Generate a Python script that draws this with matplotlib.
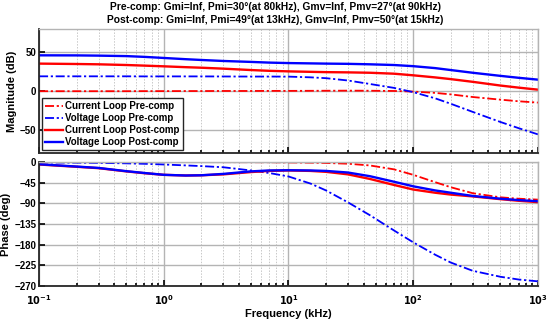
import numpy as np
import matplotlib
matplotlib.use('Agg')
from matplotlib import pyplot as plt
from matplotlib.ticker import LogLocator, NullFormatter, FixedLocator

plt.rcParams['font.family'] = ['Liberation Sans', 'DejaVu Sans']
plt.rcParams['font.weight'] = 'bold'

# frequency points (kHz)
freq = [0.1, 0.2, 0.3, 0.5, 0.7, 1, 1.5, 2, 3, 5, 7, 10, 15, 20, 30, 45, 70,
        100, 150, 200, 300, 500, 700, 1000]

# magnitude (dB)
mag_cur_pre = [-0.3, -0.3, -0.3, -0.3, -0.2, -0.2, -0.1, -0.1, 0, 0, 0.1, 0.1, 0.2, 0.3, 0.4, 0.3, 0,
               -0.8, -2.5, -4.4, -7.8, -11.2, -13.3, -15]
mag_vol_pre = [18.9, 18.9, 18.9, 18.9, 18.8, 18.8, 18.8, 18.8, 18.7, 18.6, 18.6, 18.5, 17.6, 16.5, 13.5, 9, 4,
               -1.5, -9.5, -16.5, -27, -40, -48, -56]
mag_cur_post = [35.3, 34.8, 34.4, 33.5, 32.7, 31.8, 30.7, 30, 28.8, 27, 26, 25.3, 24.7, 24.3, 24, 23.5, 22.3,
                20.2, 17.5, 15.3, 11.8, 7, 4.3, 1.7]
mag_vol_post = [46, 45.9, 45.6, 45, 44, 42.6, 41, 40, 38.7, 37.5, 36.6, 36, 35.6, 35.3, 35, 34.4, 33.5,
                32, 29.5, 27, 23.5, 19.5, 17, 14.6]

# phase (deg)
ph_cur_pre = [-0.3, -0.3, -0.3, -0.3, -0.3, -0.3, -0.3, -0.3, -0.4, -0.5, -0.6, -1, -1.5, -2.2, -3.8, -7.6, -16,
              -28, -44, -55, -68, -77, -80, -82]
ph_vol_pre = [-1, -1.5, -2, -3, -4, -5.5, -7.5, -9, -11.5, -18.5, -24, -31.6, -47, -62, -88, -116, -149,
              -175, -202, -219, -237, -250, -256, -260]
ph_cur_post = [-5.5, -10.5, -13.5, -20.5, -24.5, -28, -29.5, -29, -27, -22, -19.5, -18.5, -19.5, -21.5, -27, -37, -50,
               -60, -67, -71, -75, -81, -84.5, -87.5]
ph_vol_post = [-5, -10, -13, -20, -24, -28, -29.5, -29, -26, -20.5, -18.5, -18, -18.5, -19.5, -23, -31, -43,
               -53, -62, -67, -74, -80, -83, -85.5]

labels = ['Current Loop Pre-comp', 'Voltage Loop Pre-comp',
          'Current Loop Post-comp', 'Voltage Loop Post-comp']
colors = ['#ff0000', '#0000ff', '#ff0000', '#0000ff']
styles = [(0, (5, 1.5, 1.2, 1.5)), (0, (5, 1.5, 1.2, 1.5)), '-', '-']

mag_ticks = [-50, 0, 50]
ph_ticks = [0, -45, -90, -135, -180, -225, -270]
x_ticks = [0.1, 1, 10, 100, 1000]
x_labels = [r'$\mathbf{10^{-1}}$', r'$\mathbf{10^{0}}$', r'$\mathbf{10^{1}}$',
            r'$\mathbf{10^{2}}$', r'$\mathbf{10^{3}}$']

fig = plt.figure(figsize=(5.5, 3.22), dpi=100)
ax1 = fig.add_axes([0.071, 0.525, 0.907, 0.385])
ax2 = fig.add_axes([0.071, 0.112, 0.907, 0.385])


def style_axes(ax):
    ax.set_xscale('log')
    ax.set_xlim(0.1, 1000)
    ax.xaxis.set_major_locator(FixedLocator(x_ticks))
    ax.xaxis.set_minor_locator(LogLocator(base=10, subs=np.arange(2, 10)))
    ax.xaxis.set_minor_formatter(NullFormatter())
    ax.grid(True, which='major', color='#b4b4b4', lw=1.0, ls='-')
    ax.grid(True, which='minor', axis='x', color='#c8c8c8', lw=0.7, ls=(0, (1.5, 1.5)))
    ax.set_axisbelow(True)
    ax.tick_params(which='both', direction='in', labelsize=7, width=1.2, pad=2)
    ax.tick_params(axis='x', which='major', pad=5)
    ax.tick_params(which='major', length=4)
    ax.tick_params(which='minor', length=2.5)
    for s in ['left', 'bottom']:
        ax.spines[s].set_linewidth(1.3)
        ax.spines[s].set_color('#262626')
    for s in ['top', 'right']:
        ax.spines[s].set_linewidth(1.0)
        ax.spines[s].set_color('#b4b4b4')
    for t in ax.get_yticklabels():
        t.set_fontweight('bold')


mags = [mag_cur_pre, mag_vol_pre, mag_cur_post, mag_vol_post]
phs = [ph_cur_pre, ph_vol_pre, ph_cur_post, ph_vol_post]
for m, p, c, s, lab in zip(mags, phs, colors, styles, labels):
    lw = 1.3 if s != '-' else 1.7
    ax1.plot(freq, m, color=c, ls=s, lw=lw, label=lab)
    ax2.plot(freq, p, color=c, ls=s, lw=lw)

style_axes(ax1)
ax1.set_ylim(-80, 80)
ax1.set_yticks(mag_ticks)
ax1.set_xticklabels([])
ax1.set_ylabel('Magnitude (dB)', fontsize=8, fontweight='bold', labelpad=2)

style_axes(ax2)
ax2.set_ylim(-270, 0)
ax2.set_yticks(ph_ticks)
ax2.set_xticklabels(x_labels)
ax2.set_ylabel('Phase (deg)', fontsize=8, fontweight='bold', labelpad=2)
ax2.set_xlabel('Frequency (kHz)', fontsize=8, fontweight='bold', labelpad=2)

leg = ax1.legend(loc='lower left', fontsize=7, frameon=True, fancybox=False,
                 edgecolor='#262626', framealpha=1, borderaxespad=0.3,
                 handlelength=1.9, handletextpad=0.2, borderpad=0.3,
                 labelspacing=0.2)
leg.get_frame().set_linewidth(1.0)
for t in leg.get_texts():
    t.set_fontweight('bold')

fig.text(0.5, 0.978, 'Pre-comp: Gmi=Inf, Pmi=30°(at 80kHz), Gmv=Inf, Pmv=27°(at 90kHz)',
         ha='center', va='center', fontsize=7.4, fontweight='bold')
fig.text(0.5, 0.938, 'Post-comp: Gmi=Inf, Pmi=49°(at 13kHz), Gmv=Inf, Pmv=50°(at 15kHz)',
         ha='center', va='center', fontsize=7.4, fontweight='bold')

fig.savefig('out.png', dpi=100)
